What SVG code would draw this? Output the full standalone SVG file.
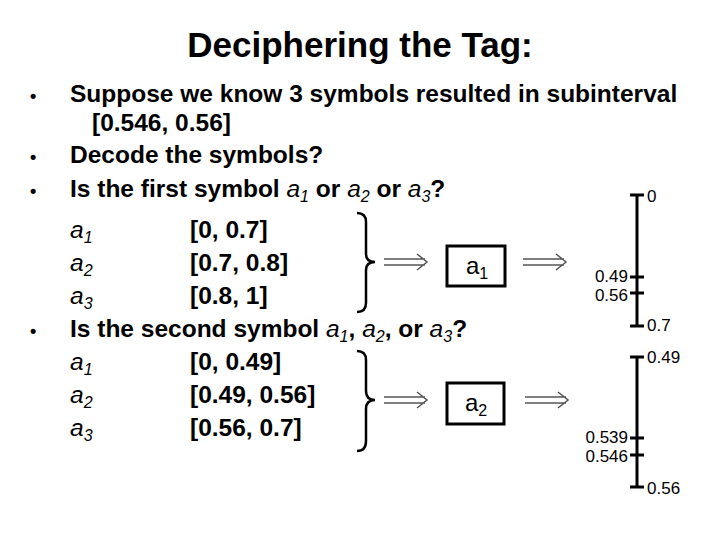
<svg xmlns="http://www.w3.org/2000/svg" width="720" height="540" viewBox="0 0 720 540">
<style>
text{font-family:"Liberation Sans",Arial,sans-serif;fill:#000}
.t{font-size:35px;font-weight:bold}
.b{font-size:24.5px;font-weight:bold}
.i{font-style:italic;font-weight:normal}
.s{font-size:16px}
.n{font-size:17px}
.ax{stroke:#000;stroke-width:3;fill:none}
.br{stroke:#000;stroke-width:2.5;fill:none}
.box{stroke:#000;stroke-width:3;fill:#fff}
.ar{stroke:#555;stroke-width:1.5;fill:none}
</style>
<rect width="720" height="540" fill="#fff"/>
<text class="t" x="360" y="57" text-anchor="middle">Deciphering the Tag:</text>
<g id="text" class="b">
<text x="30" y="102" font-size="18">•</text><text x="70" y="102">Suppose we know 3 symbols resulted in subinterval</text>
<text x="92" y="131">[0.546, 0.56]</text>
<text x="30" y="163" font-size="18">•</text><text x="70" y="163">Decode the symbols?</text>
<text x="30" y="197" font-size="18">•</text><text x="70" y="197">Is the first symbol <tspan class="i">a</tspan><tspan class="i s" dy="5">1</tspan><tspan dy="-5"> or </tspan><tspan class="i">a</tspan><tspan class="i s" dy="5">2</tspan><tspan dy="-5"> or </tspan><tspan class="i">a</tspan><tspan class="i s" dy="5">3</tspan><tspan dy="-5">?</tspan></text>
<text x="70" y="238" class="i">a<tspan class="s" dy="5">1</tspan></text><text x="190" y="238">[0, 0.7]</text>
<text x="70" y="271" class="i">a<tspan class="s" dy="5">2</tspan></text><text x="190" y="271">[0.7, 0.8]</text>
<text x="70" y="304" class="i">a<tspan class="s" dy="5">3</tspan></text><text x="190" y="304">[0.8, 1]</text>
<text x="30" y="337" font-size="18">•</text><text x="70" y="337">Is the second symbol <tspan class="i">a</tspan><tspan class="i s" dy="5">1</tspan><tspan dy="-5">, </tspan><tspan class="i">a</tspan><tspan class="i s" dy="5">2</tspan><tspan dy="-5">, or </tspan><tspan class="i">a</tspan><tspan class="i s" dy="5">3</tspan><tspan dy="-5">?</tspan></text>
<text x="70" y="370" class="i">a<tspan class="s" dy="5">1</tspan></text><text x="190" y="370">[0, 0.49]</text>
<text x="70" y="403" class="i">a<tspan class="s" dy="5">2</tspan></text><text x="190" y="403">[0.49, 0.56]</text>
<text x="70" y="436" class="i">a<tspan class="s" dy="5">3</tspan></text><text x="190" y="436">[0.56, 0.7]</text>
</g>
<g id="box1"><rect class="box" x="447" y="246" width="58" height="40"/><text x="466" y="274" font-size="24">a<tspan class="s" dy="5">1</tspan></text></g>
<g id="box2"><rect class="box" x="447" y="383" width="57" height="41"/><text x="465" y="411" font-size="24">a<tspan class="s" dy="5">2</tspan></text></g>
<g id="scale1">
<path class="ax" d="M637 195V326M630 195H644M630 326H644M630 277H644M630 293H644"/>
<text class="n" x="647" y="202">0</text>
<text class="n" x="628" y="282" text-anchor="end">0.49</text>
<text class="n" x="628" y="301" text-anchor="end">0.56</text>
<text class="n" x="647" y="331">0.7</text>
</g>
<g id="scale2">
<path class="ax" d="M637 357V487M630 357H644M630 487H644M630 438H644M630 455H644"/>
<text class="n" x="647" y="363">0.49</text>
<text class="n" x="628" y="443" text-anchor="end">0.539</text>
<text class="n" x="628" y="462" text-anchor="end">0.546</text>
<text class="n" x="647" y="494">0.56</text>
</g>
<g id="connectors">
<path class="br" d="M357 213Q366 213 366 222V254Q366 262 375 262Q366 262 366 270V303Q366 312 357 312"/>
<path class="br" d="M357 351Q366 351 366 360V391Q366 400 375 400Q366 400 366 409V441Q366 451 357 451"/>
<path class="ar" d="M384 259H425M384 265H425M417 254L427 262L417 270"/>
<path class="ar" d="M523 259H564M523 265H564M556 254L566 262L556 270"/>
<path class="ar" d="M384 397H425M384 403H425M417 392L427 400L417 408"/>
<path class="ar" d="M525 397H566M525 403H566M558 392L568 400L558 408"/>
</g>
</svg>
